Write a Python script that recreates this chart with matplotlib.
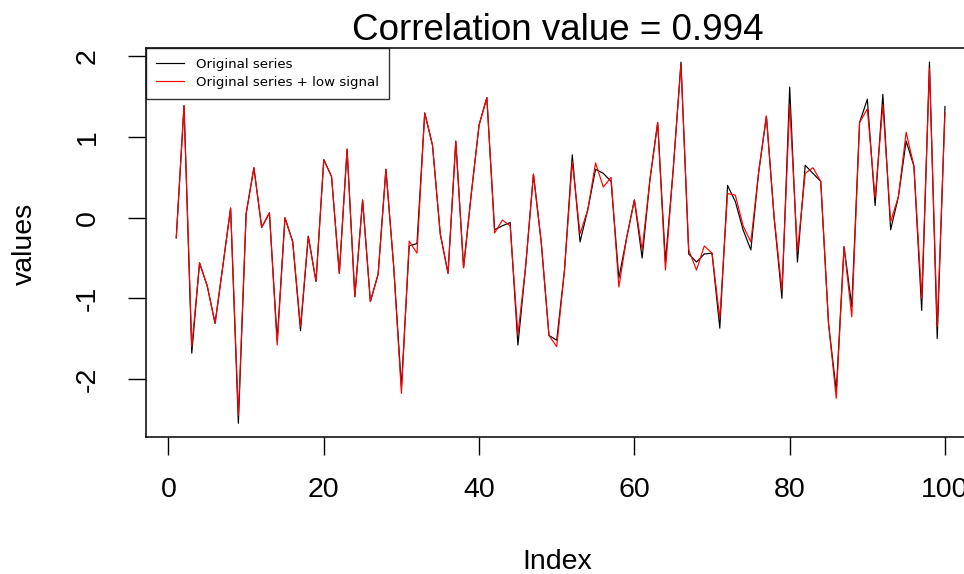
import matplotlib
matplotlib.use("Agg")
import matplotlib.pyplot as plt
import numpy as np

plt.rcParams['font.family'] = ['Liberation Sans', 'DejaVu Sans']

index = list(range(1, 101))
original = [-0.25, 1.39, -1.68, -0.56, -0.85, -1.31, -0.60, 0.12, -2.55, 0.05,
            0.62, -0.12, 0.06, -1.52, 0.00, -0.30, -1.40, -0.23, -0.79, 0.72,
            0.51, -0.69, 0.85, -0.98, 0.22, -1.04, -0.70, 0.60, -0.60, -2.10,
            -0.35, -0.32, 1.30, 0.90, -0.20, -0.69, 0.95, -0.62, 0.30, 1.15,
            1.49, -0.15, -0.10, -0.06, -1.58, -0.60, 0.54, -0.30, -1.46, -1.52,
            -0.65, 0.78, -0.30, 0.10, 0.60, 0.55, 0.45, -0.75, -0.25, 0.22,
            -0.50, 0.47, 1.18, -0.55, 0.60, 1.93, -0.45, -0.55, -0.45, -0.44,
            -1.37, 0.40, 0.20, -0.15, -0.40, 0.56, 1.26, 0.00, -1.00, 1.62,
            -0.55, 0.65, 0.55, 0.45, -1.31, -2.15, -0.36, -1.10, 1.18, 1.47,
            0.15, 1.53, -0.15, 0.26, 0.95, 0.64, -1.15, 1.93, -1.50, 1.38]
with_signal = [-0.25, 1.39, -1.60, -0.56, -0.85, -1.31, -0.60, 0.12, -2.45, 0.05,
               0.62, -0.12, 0.06, -1.58, 0.00, -0.30, -1.35, -0.23, -0.79, 0.72,
               0.51, -0.69, 0.85, -0.98, 0.22, -1.04, -0.70, 0.60, -0.60, -2.18,
               -0.29, -0.44, 1.30, 0.90, -0.20, -0.69, 0.95, -0.62, 0.30, 1.15,
               1.49, -0.19, -0.03, -0.10, -1.45, -0.60, 0.54, -0.30, -1.46, -1.60,
               -0.65, 0.70, -0.20, 0.10, 0.68, 0.38, 0.50, -0.86, -0.25, 0.22,
               -0.40, 0.47, 1.18, -0.65, 0.60, 1.90, -0.40, -0.65, -0.35, -0.44,
               -1.25, 0.30, 0.28, -0.10, -0.30, 0.56, 1.26, 0.00, -0.90, 1.40,
               -0.42, 0.55, 0.62, 0.45, -1.31, -2.24, -0.36, -1.23, 1.18, 1.35,
               0.25, 1.40, -0.05, 0.26, 1.06, 0.64, -1.00, 1.85, -1.35, 1.30]

title = "Correlation value = 0.994"
legend_labels = ["Original series", "Original series + low signal"]
xticks = [0, 20, 40, 60, 80, 100]
yticks = [-2, -1, 0, 1, 2]

W, H = 964, 574
fig = plt.figure(figsize=(W / 100, H / 100), dpi=100)
x0, x1 = -2.96, 103.96
y0, y1 = -2.72, 2.105
left_px, top_px, bottom_px = 145.5, 48, 437
ppu = 7.765
right_px = left_px + ppu * (x1 - x0)
ax = fig.add_axes([left_px / W, 1 - bottom_px / H, (right_px - left_px) / W, (bottom_px - top_px) / H])
ax.set_xlim(x0, x1)
ax.set_ylim(y0, y1)

ax.plot(index, original, color='black', lw=0.85, label=legend_labels[0])
ax.plot(index, with_signal, color='red', lw=0.85, label=legend_labels[1])

ax.set_xticks(xticks)
ax.set_yticks(yticks)
ax.set_yticklabels([str(v) for v in yticks], rotation=90, va='center')
ax.tick_params(axis='both', direction='out', length=13, width=1.0, labelsize=20.5)
ax.tick_params(axis='x', pad=16)
ax.tick_params(axis='y', pad=19)
for s in ax.spines.values():
    s.set_linewidth(1.1)

fig.text(0.5 * (left_px + 976) / W - 0.003, 1 - 39.5 / H, title, fontsize=26.5,
         ha='center', va='baseline')
fig.text(557 / W, 1 - 562 / H, "Index", fontsize=20.5, ha='center', va='center')
fig.text(25 / W, 1 - 244 / H, "values", fontsize=20.5, ha='center', va='center', rotation=90)

leg = ax.legend(loc='upper left', bbox_to_anchor=(0, 1), borderaxespad=0,
                prop={'family': 'DejaVu Sans', 'size': 9.6},
                frameon=True, fancybox=False, edgecolor='black', handlelength=2.1,
                handletextpad=0.9, borderpad=0.75, labelspacing=0.35)
leg.get_frame().set_linewidth(1.0)

fig.savefig("out.png", dpi=100)
